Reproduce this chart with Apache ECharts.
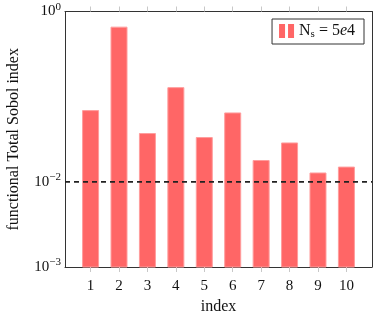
<!DOCTYPE html>
<html>
<head>
<meta charset="utf-8">
<script src="https://cdn.jsdelivr.net/npm/echarts@6/dist/echarts.min.js"></script>
<style>
html,body{margin:0;padding:0;background:#fff;}
#c{width:373px;height:317px;}
</style>
</head>
<body>
<div id="c"></div>
<script>
var categories = [1, 2, 3, 4, 5, 6, 7, 8, 9, 10];
var sobolValues = [0.0686, 0.655, 0.0369, 0.1276, 0.0331, 0.0644, 0.0178, 0.0286, 0.0127, 0.0149];
var thresholdValue = 0.01;
var yTickExponents = [-3, -2, 0];
var seriesName = 'Ns5e4';

var FONT = 'Liberation Serif';
var chart = echarts.init(document.getElementById('c'));

var barData = categories.map(function (c, i) { return [c, sobolValues[i]]; });

function supLabel(v) {
  var e = Math.round(Math.log10(v));
  if (yTickExponents.indexOf(e) < 0) return '';
  return '{b|10}{s|' + (e < 0 ? '\u2212' + (-e) : e) + '}';
}

var option = {
  animation: false,
  textStyle: { fontFamily: FONT },
  grid: { left: 65, right: 1, top: 11.5, bottom: 50, containLabel: false, outerBoundsMode: 'none' },
  legend: {
    data: [seriesName],
    right: 9, top: 19,
    padding: [4, 9, 4, 7],
    borderColor: '#333', borderWidth: 1,
    itemWidth: 15, itemHeight: 14, itemGap: 0,
    icon: 'path://M0,0h6v14h-6zM9,0h6v14h-6z',
    formatter: function () { return '{n|N}{sub|s}{n| = 5}{i|e}{n|4}'; },
    textStyle: {
      fontFamily: FONT, color: '#111', fontSize: 16,
      rich: {
        n: { fontSize: 16, fontFamily: FONT, color: '#111' },
        i: { fontSize: 16, fontFamily: FONT, fontStyle: 'italic', color: '#111' },
        sub: { fontSize: 11, fontFamily: FONT, color: '#111', padding: [7, 0, 0, 0] }
      }
    }
  },
  xAxis: [{
    type: 'value', min: 0.1, max: 10.9, position: 'bottom',
    name: 'index', nameLocation: 'middle', nameGap: 31,
    nameTextStyle: { fontFamily: FONT, fontSize: 16, color: '#111' },
    axisLine: { show: true, lineStyle: { color: '#333', width: 1 } },
    axisTick: { show: true, inside: false, length: 5, lineStyle: { color: '#c8c8c8' }, customValues: categories },
    axisLabel: { fontFamily: FONT, fontSize: 15, color: '#111', margin: 12, customValues: categories },
    splitLine: { show: false }
  }, {
    type: 'value', min: 0.1, max: 10.9, position: 'top',
    axisLine: { show: true, lineStyle: { color: '#333', width: 1 } },
    axisTick: { show: true, inside: false, length: 5, lineStyle: { color: '#c8c8c8' }, customValues: categories },
    axisLabel: { show: false },
    splitLine: { show: false }
  }],
  yAxis: [{
    type: 'log', logBase: 10, min: 0.001, max: 1, position: 'left',
    name: 'functional Total Sobol index', nameLocation: 'middle', nameGap: 43,
    nameTextStyle: { fontFamily: FONT, fontSize: 16, color: '#111' },
    axisLine: { show: true, lineStyle: { color: '#333', width: 1 } },
    axisTick: { show: false },
    minorTick: { show: false },
    splitLine: { show: false },
    axisLabel: {
      margin: 4,
      formatter: supLabel,
      rich: {
        b: { fontFamily: FONT, fontSize: 15, color: '#111' },
        s: { fontFamily: FONT, fontSize: 11, color: '#111', padding: [0, 0, 9, 0] }
      }
    }
  }, {
    type: 'log', logBase: 10, min: 0.001, max: 1, position: 'right',
    axisLine: { show: true, lineStyle: { color: '#333', width: 1 } },
    axisTick: { show: false }, axisLabel: { show: false }, splitLine: { show: false }
  }],
  series: [{
    name: seriesName,
    type: 'custom',
    xAxisIndex: 0, yAxisIndex: 0,
    itemStyle: { color: '#ff6666' },
    data: barData,
    renderItem: function (params, api) {
      var top = api.coord([api.value(0), api.value(1)]);
      var base = api.coord([api.value(0), 0.001]);
      var w = 16;
      return {
        type: 'rect',
        shape: { x: top[0] - w / 2, y: top[1], width: w, height: base[1] - top[1] },
        style: { fill: '#ff6666', stroke: '#ff9d9d', lineWidth: 1 }
      };
    },
    z: 2
  }, {
    name: 'threshold',
    type: 'line',
    xAxisIndex: 0, yAxisIndex: 0,
    data: [[0.1, thresholdValue], [10.9, thresholdValue]],
    symbol: 'none',
    lineStyle: { color: '#222', width: 1.6, type: [5, 4] },
    z: 3
  }]
};
chart.setOption(option);
</script>
</body>
</html>
